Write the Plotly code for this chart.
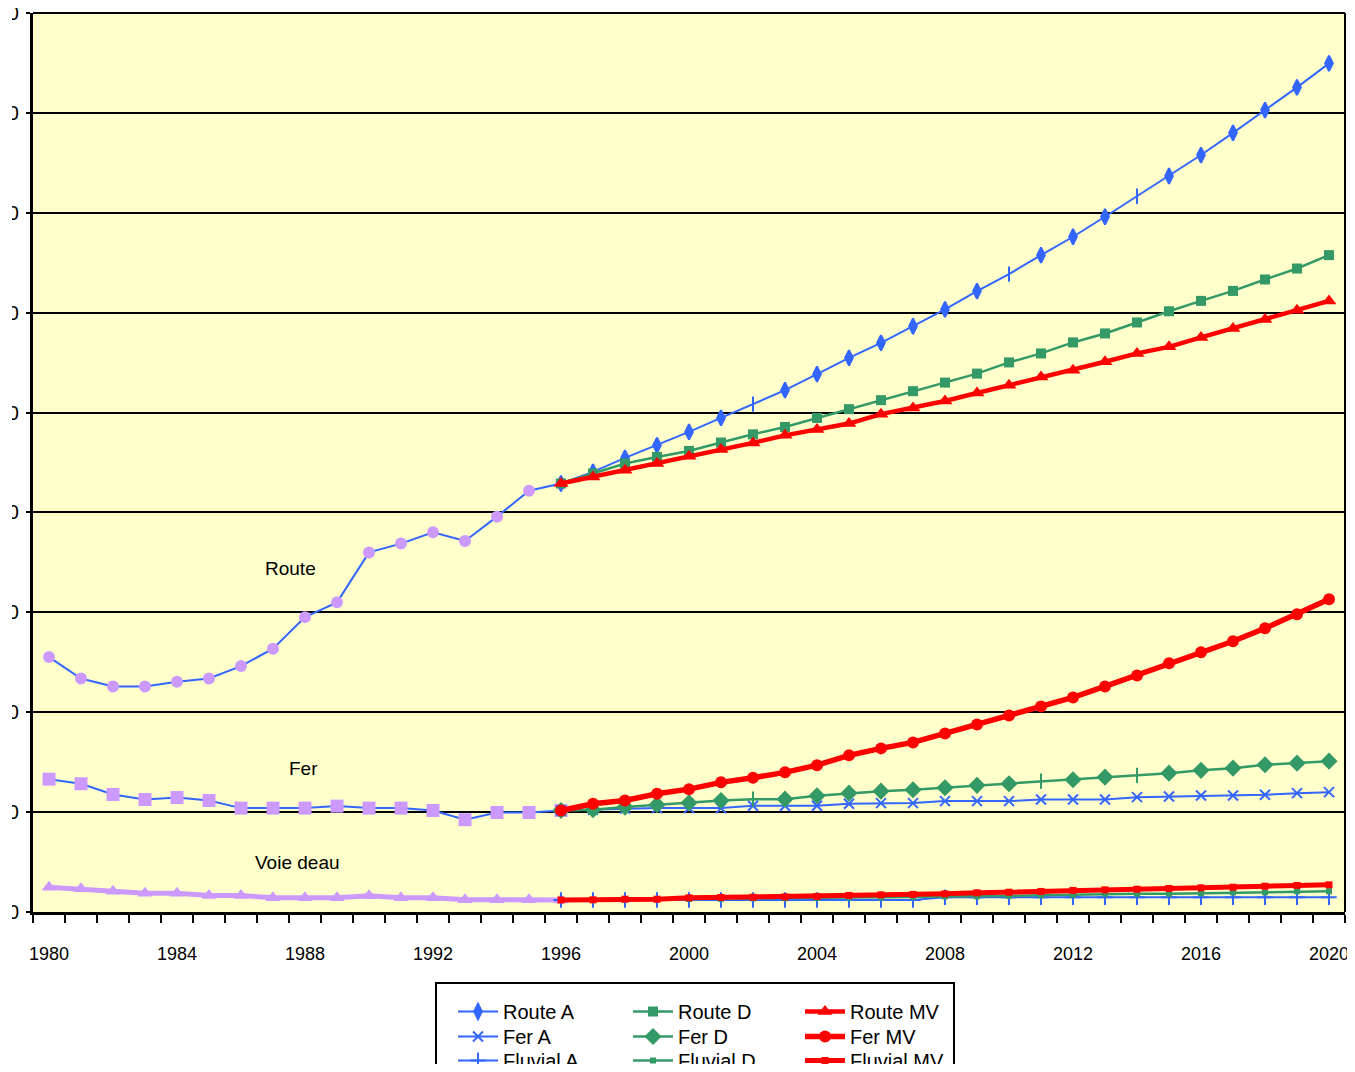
import plotly.graph_objects as go

# ---------------- data ----------------
hist_years = list(range(1980, 1997))
route_hist = [127.6, 116.9, 112.9, 112.9, 115.3, 116.9, 123.1, 131.8, 147.6, 155.0,
              180.0, 184.4, 190.1, 185.7, 197.9, 210.9, 214.5]
fer_hist = [66.5, 64.2, 58.8, 56.3, 57.3, 55.8, 52.0, 52.0, 52.0, 53.0,
            52.0, 52.0, 50.8, 46.2, 49.8, 49.8, 50.8]
eau_hist = [12.4, 11.6, 10.4, 9.4, 9.4, 8.3, 8.3, 7.1, 7.1, 7.1,
            8.1, 7.1, 7.1, 6.1, 6.1, 6.1, 6.0]

proj_years = list(range(1996, 2021))
route_A = [214.5, 220.3, 227.3, 233.6, 240.3, 247.3, 254.2, 261.2, 269.2, 277.4,
           284.9, 293.2, 301.6, 310.8, 319.3, 328.8, 338.0, 348.0, 358.3, 368.4,
           378.9, 390.0, 401.4, 412.8, 424.8]
route_D = [214.5, 219.5, 224.5, 227.8, 230.8, 235.0, 239.1, 242.8, 247.3, 251.7,
           256.2, 260.7, 265.0, 269.5, 275.1, 279.6, 285.1, 289.6, 295.1, 300.7,
           305.9, 310.9, 316.6, 322.1, 328.8]
route_MV = [214.5, 217.8, 221.1, 224.5, 228.1, 231.5, 234.8, 238.6, 241.5, 244.5,
            249.2, 252.3, 255.8, 259.8, 263.7, 267.8, 271.2, 275.4, 279.6, 282.9,
            287.6, 292.1, 296.6, 301.2, 305.9]
fer_A = [50.8, 51.2, 51.8, 52.0, 52.0, 52.0, 53.2, 53.2, 53.2, 54.2,
         54.5, 54.5, 55.5, 55.5, 55.5, 56.3, 56.3, 56.3, 57.5, 57.8,
         58.3, 58.3, 58.7, 59.5, 60.0]
fer_D = [50.8, 51.2, 52.5, 53.7, 54.7, 55.8, 56.5, 56.5, 58.2, 59.5,
         60.5, 61.2, 62.2, 63.4, 64.2, 65.5, 66.2, 67.5, 68.4, 69.5,
         70.9, 72.0, 73.7, 74.5, 75.5]
fer_MV = [50.8, 54.2, 55.8, 59.2, 61.5, 64.9, 67.2, 69.9, 73.5, 78.4,
          81.9, 84.9, 89.4, 93.9, 98.4, 102.9, 107.4, 112.9, 118.4, 124.5,
          130.0, 135.5, 142.0, 149.0, 156.5]
fluvial_A = [6.0, 6.0, 6.0, 6.0, 6.0, 6.0, 6.0, 6.0, 6.0, 6.0,
             6.0, 6.0, 7.4, 7.4, 7.4, 7.4, 7.4, 7.4, 7.4, 7.4,
             7.4, 7.4, 7.4, 7.4, 7.4]
fluvial_D = [6.0, 6.0, 6.2, 6.3, 6.5, 6.6, 6.8, 6.9, 7.0, 7.2,
             7.3, 7.5, 7.8, 7.8, 8.1, 8.4, 8.6, 9.1, 9.1, 9.1,
             9.4, 9.8, 9.8, 10.4, 10.4]
fluvial_MV = [6.0, 6.1, 6.4, 6.4, 7.1, 7.3, 7.4, 7.6, 7.8, 8.3,
              8.6, 8.8, 9.1, 9.6, 9.9, 10.3, 10.8, 11.1, 11.4, 11.8,
              12.1, 12.4, 12.9, 13.3, 13.6]

x_tick_years = list(range(1980, 2021, 4))
x_tick_labels = [str(y) for y in x_tick_years]
y_tick_values = list(range(0, 451, 50))
y_tick_labels = [str(v) for v in y_tick_values]

# ---------------- styles ----------------
BLUE = "#3366FF"
GREEN = "#339966"
RED = "#FF0000"
LAV = "#CC99FF"
FONT = "Liberation Sans, Arial, sans-serif"

route_A_sym = ["line-ns" if y in (2002, 2010, 2014) else "diamond-tall" for y in proj_years]
fer_D_sym = ["line-ns" if y in (2002, 2011, 2014) else "diamond" for y in proj_years]

# ---------------- geometry (page has an 8px body margin) ----------------
OFF = 8
FW, FH = 1345, 1056
L, R, T, B = 25, 8, 5, 152
PW = FW - L - R
PH = FH - T - B


def px_x(page_x):
    return (page_x - OFF - L) / PW


def px_y(page_y):
    return (FH - B - (page_y - OFF)) / PH


fig = go.Figure()

# historical series
fig.add_trace(go.Scatter(x=hist_years, y=route_hist, mode="lines+markers", showlegend=False,
                         line=dict(color=BLUE, width=2),
                         marker=dict(symbol="circle", size=12, color=LAV)))
fig.add_trace(go.Scatter(x=hist_years, y=fer_hist, mode="lines+markers", showlegend=False,
                         line=dict(color=BLUE, width=2),
                         marker=dict(symbol="square", size=13, color=LAV)))
fig.add_trace(go.Scatter(x=hist_years, y=eau_hist, mode="lines+markers", showlegend=False,
                         line=dict(color=LAV, width=5),
                         marker=dict(symbol="triangle-up", size=13, color=LAV)))

# projections
fig.add_trace(go.Scatter(x=proj_years, y=fluvial_A, name="Fluvial A", legend="legend3",
                         mode="lines+markers", line=dict(color=BLUE, width=2),
                         marker=dict(symbol="cross-thin", size=11, color=BLUE, line=dict(color=BLUE, width=2))))
fig.add_trace(go.Scatter(x=proj_years, y=fluvial_D, name="Fluvial D", legend="legend6",
                         mode="lines+markers", line=dict(color=GREEN, width=2.5),
                         marker=dict(symbol="square", size=6, color=GREEN)))
fig.add_trace(go.Scatter(x=proj_years, y=fer_A, name="Fer A", legend="legend2",
                         mode="lines+markers", line=dict(color=BLUE, width=2),
                         marker=dict(symbol="x-thin", size=10, color=BLUE, line=dict(color=BLUE, width=2))))
fig.add_trace(go.Scatter(x=proj_years, y=fer_D, name="Fer D", legend="legend5",
                         mode="lines+markers", line=dict(color=GREEN, width=2.5),
                         marker=dict(symbol=fer_D_sym, size=11, color=GREEN, line=dict(color=GREEN, width=2))))
fig.add_trace(go.Scatter(x=proj_years, y=route_A, name="Route A", legend="legend",
                         mode="lines+markers", line=dict(color=BLUE, width=2),
                         marker=dict(symbol=route_A_sym, size=11, color=BLUE, line=dict(color=BLUE, width=2))))
fig.add_trace(go.Scatter(x=proj_years, y=route_D, name="Route D", legend="legend4",
                         mode="lines+markers", line=dict(color=GREEN, width=2.5),
                         marker=dict(symbol="square", size=10, color=GREEN)))
fig.add_trace(go.Scatter(x=proj_years, y=fluvial_MV, name="Fluvial MV", legend="legend9",
                         mode="lines+markers", line=dict(color=RED, width=5),
                         marker=dict(symbol="square", size=7, color=RED)))
fig.add_trace(go.Scatter(x=proj_years, y=fer_MV, name="Fer MV", legend="legend8",
                         mode="lines+markers", line=dict(color=RED, width=5.5),
                         marker=dict(symbol="circle", size=12, color=RED)))
fig.add_trace(go.Scatter(x=proj_years, y=route_MV, name="Route MV", legend="legend7",
                         mode="lines+markers", line=dict(color=RED, width=4.5),
                         marker=dict(symbol="triangle-up", size=13, color=RED)))

# ---------------- legends: 3 columns x 3 rows ----------------
leg_common = dict(orientation="v", xanchor="left", yanchor="top", bgcolor="rgba(0,0,0,0)",
                  borderwidth=0, font=dict(family=FONT, size=20, color="black"),
                  itemwidth=40)
col_left = [453, 628, 800]
row_top = [992, 1017, 1041]
legend_defs = {}
names = ["legend", "legend2", "legend3", "legend4", "legend5", "legend6", "legend7", "legend8", "legend9"]
for i, nm in enumerate(names):
    c, r = divmod(i, 3)
    legend_defs[nm] = dict(x=px_x(col_left[c]), y=px_y(row_top[r]), **leg_common)

fig.update_layout(
    width=FW, height=FH,
    margin=dict(l=L, r=R, t=T, b=B, autoexpand=False),
    paper_bgcolor="white",
    plot_bgcolor="#FFFFCC",
    font=dict(family=FONT, size=18, color="black"),
    xaxis=dict(
        range=[1979.5, 2020.5], tickmode="array", tickvals=x_tick_years, ticktext=x_tick_labels,
        ticks="", showgrid=False, zeroline=False,
        showline=True, linecolor="black", linewidth=3,
        tickfont=dict(family=FONT, size=18, color="black"),
        ticklabelstandoff=23, ticklabeloverflow="allow",
        minor=dict(tickmode="array", tickvals=[1979.5 + i for i in range(42)], ticks="outside",
                   ticklen=8, tickwidth=2, tickcolor="black", showgrid=False),
    ),
    yaxis=dict(
        range=[0, 450], tickmode="array", tickvals=y_tick_values, ticktext=y_tick_labels,
        ticks="outside", ticklen=4, tickwidth=2, tickcolor="black",
        showgrid=True, gridcolor="black", gridwidth=2, zeroline=False,
        showline=True, linecolor="black", linewidth=3,
        tickfont=dict(family=FONT, size=20, color="black"),
        ticklabelstandoff=3, ticklabeloverflow="allow",
    ),
    shapes=[
        dict(type="line", xref="paper", yref="paper", x0=0, x1=1, y0=1, y1=1,
             line=dict(color="black", width=2), layer="above"),
        dict(type="line", xref="paper", yref="paper", x0=1, x1=1, y0=0, y1=1,
             line=dict(color="black", width=2), layer="above"),
        dict(type="rect", xref="paper", yref="paper", x0=px_x(436), x1=px_x(954),
             y0=px_y(1090), y1=px_y(983), line=dict(color="black", width=2),
             fillcolor="white", layer="below"),
        # the original picture is cropped on its left edge
        dict(type="rect", xref="paper", yref="paper", x0=px_x(0), x1=px_x(12),
             y0=-0.06, y1=1.03, line=dict(width=0), fillcolor="white", layer="above"),
    ],
    annotations=[
        dict(x=1987.56, y=172.0, text="Route", showarrow=False, font=dict(family=FONT, size=19)),
        dict(x=1987.94, y=71.9, text="Fer", showarrow=False, font=dict(family=FONT, size=19)),
        dict(x=1987.78, y=24.8, text="Voie deau", showarrow=False, font=dict(family=FONT, size=19)),
    ],
    **legend_defs,
)

fig.write_html("out.html")
